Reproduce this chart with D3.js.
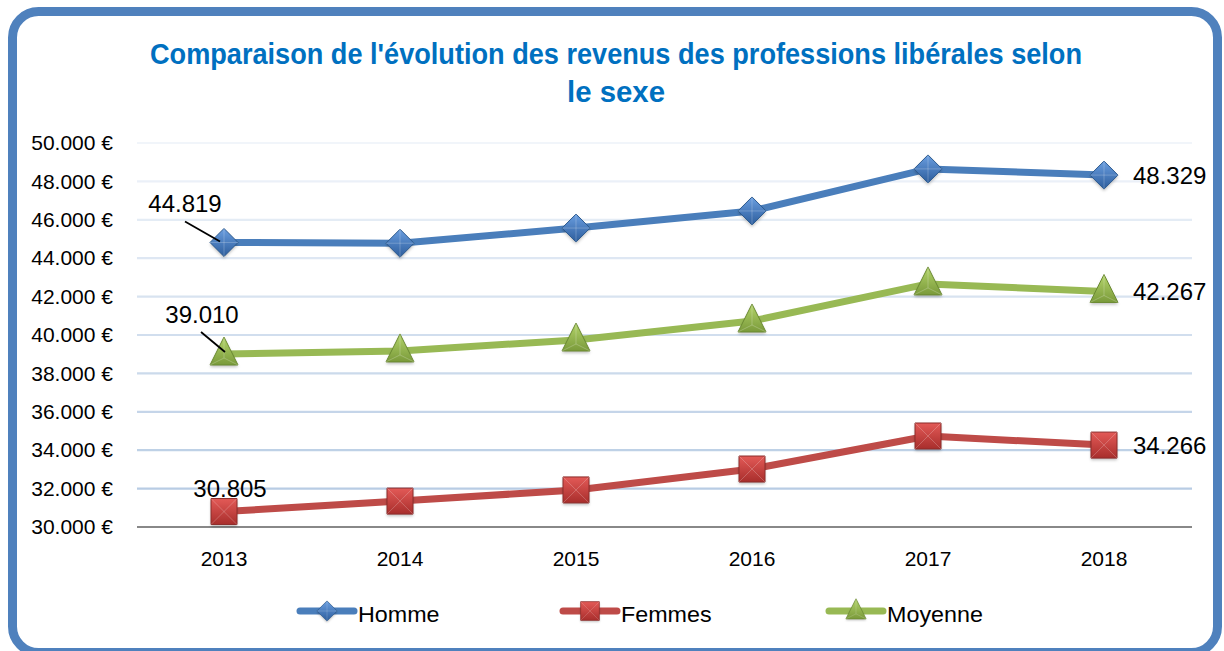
<!DOCTYPE html>
<html><head><meta charset="utf-8">
<script src="https://cdn.jsdelivr.net/npm/d3@7"></script>
<style>
html,body{margin:0;padding:0;background:#fff;}
svg{display:block;}
text{font-family:"Liberation Sans",Arial,sans-serif;}
</style></head>
<body><svg id="c" width="1224" height="651"></svg>
<script>
const years = ["2013","2014","2015","2016","2017","2018"];
const homme = [44819, 44780, 45570, 46460, 48650, 48329];
const femmes = [30805, 31350, 31930, 33020, 34740, 34266];
const moyenne = [39010, 39170, 39740, 40730, 42660, 42267];
const seriesNames = ["Homme","Femmes","Moyenne"];
const yTicks = [30000,32000,34000,36000,38000,40000,42000,44000,46000,48000,50000];
const titleLines = ["Comparaison de l'évolution des revenus des professions libérales selon","le sexe"];

const svg = d3.select("#c");
const defs = svg.append("defs");

// frame
svg.append("rect").attr("x",12.5).attr("y",11.5).attr("width",1205).attr("height",641)
  .attr("rx",26).attr("fill","#fff").attr("stroke","#4f81bd").attr("stroke-width",9);

// title
const tLen = [932, 98];
titleLines.forEach((t,i)=>{
  svg.append("text").attr("x",616).attr("y",64 + i*38).attr("text-anchor","middle")
    .attr("fill","#0070c0").attr("font-weight","bold").attr("font-size",29)
    .attr("textLength",tLen[i]).attr("lengthAdjust","spacingAndGlyphs")
    .text(t);
});

const x = d3.scaleBand().domain(years).range([136,1192]);
const y = d3.scaleLinear().domain([30000,50000]).range([527,143]);
const cx = d => x(d) + x.bandwidth()/2;

// gridlines
const gc = d3.interpolateRgb("#f1f5fa","#b8cce4");
svg.append("g").selectAll("line").data(yTicks.slice(1)).join("line")
  .attr("x1",137).attr("x2",1192).attr("y1",d=>y(d)).attr("y2",d=>y(d))
  .attr("stroke",(d,i)=>gc(1 - i/(yTicks.length-2))).attr("stroke-width",2.2);

// y axis
const yAxis = d3.axisLeft(y).tickValues(yTicks).tickSize(0).tickPadding(0)
  .tickFormat(d => d3.format(",")(d).replace(/,/g,".") + " €");
const ya = svg.append("g").attr("transform","translate(113,0)").call(yAxis);
ya.select(".domain").remove();
ya.selectAll("text").attr("font-size",21).attr("fill","#000").style("font-family","'Liberation Sans',Arial,sans-serif");

// x axis
const xAxis = d3.axisBottom(x).tickSize(0).tickPadding(0);
const xa = svg.append("g").attr("transform","translate(0,527)").call(xAxis);
xa.select(".domain").attr("stroke","#888").attr("stroke-width",2).attr("d","M137,0H1192");
xa.selectAll("text").attr("font-size",21).attr("fill","#000").attr("dy",0).attr("y",39)
  .style("font-family","'Liberation Sans',Arial,sans-serif");

// gradients
function grad(id, c1, c2){
  const g = defs.append("linearGradient").attr("id",id)
    .attr("x1",0).attr("y1",0).attr("x2",0).attr("y2",1);
  g.append("stop").attr("offset","0%").attr("stop-color",c1);
  g.append("stop").attr("offset","100%").attr("stop-color",c2);
}
grad("gB","#6a9ee0","#2d5d9c");
grad("gR","#e35a57","#a82e2c");
grad("gG","#b3d46a","#7a9a3a");
const f = defs.append("filter").attr("id","sh").attr("x","-50%").attr("y","-50%").attr("width","200%").attr("height","200%");
f.append("feGaussianBlur").attr("stdDeviation",1.5);

const series = [
  {name:seriesNames[0], vals:homme, color:"#4a7ebb", g:"url(#gB)", stroke:"#2c5a8f", shape:"diamond"},
  {name:seriesNames[1], vals:femmes, color:"#be4b48", g:"url(#gR)", stroke:"#8c2d2b", shape:"square"},
  {name:seriesNames[2], vals:moyenne, color:"#98b954", g:"url(#gG)", stroke:"#6b8a32", shape:"triangle"}
];

function markerPath(shape){
  if(shape==="diamond") return "M0,-14L14,0L0,14L-14,0Z";
  if(shape==="square") return "M-13,-13H13V13H-13Z";
  return "M0,-17L14,11H-14Z";
}
function drawMarker(g, shape, s){
  g.append("path").attr("d",markerPath(shape)).attr("fill","rgba(0,0,0,0.25)")
    .attr("transform","translate(0,2)").attr("filter","url(#sh)");
  g.append("path").attr("d",markerPath(shape)).attr("fill",s.g).attr("stroke",s.stroke)
    .attr("stroke-width",1);
  let hl;
  if(shape==="diamond") hl = "M-14,0L14,0M0,-14L0,14";
  else if(shape==="square") hl = "M-13,-13L13,13M13,-13L-13,13";
  else hl = "M0,-17L0,4M-14,11L0,4L14,11";
  g.append("path").attr("d",hl).attr("fill","none").attr("stroke","rgba(255,255,255,0.22)").attr("stroke-width",1);
}

const line = d3.line().x((d,i)=>cx(years[i])).y(d=>y(d));
series.forEach(s=>{
  svg.append("path").datum(s.vals).attr("d",line).attr("fill","none")
    .attr("stroke",s.color).attr("stroke-width",7).attr("stroke-linejoin","round");
});
series.forEach(s=>{
  s.vals.forEach((v,i)=>{
    const g = svg.append("g").attr("transform",`translate(${cx(years[i])},${y(v)})`);
    drawMarker(g, s.shape, s);
  });
});

// data labels
const fmt = v => d3.format(",")(v).replace(/,/g,".");
const lab = svg.append("g").attr("font-size",24).attr("fill","#000");
lab.append("text").attr("x",cx(years[0])-39).attr("y",y(homme[0])-30).attr("text-anchor","middle").text(fmt(homme[0]));
lab.append("line").attr("x1",cx(years[0])-39).attr("y1",y(homme[0])-21).attr("x2",cx(years[0])-4).attr("y2",y(homme[0])-1).attr("stroke","#000").attr("stroke-width",1.8);
lab.append("text").attr("x",cx(years[0])-22).attr("y",y(moyenne[0])-31).attr("text-anchor","middle").text(fmt(moyenne[0]));
lab.append("line").attr("x1",cx(years[0])-23).attr("y1",y(moyenne[0])-22).attr("x2",cx(years[0])+1).attr("y2",y(moyenne[0])-2).attr("stroke","#000").attr("stroke-width",1.8);
lab.append("text").attr("x",cx(years[0])+6).attr("y",y(femmes[0])-15).attr("text-anchor","middle").text(fmt(femmes[0]));
[homme, moyenne, femmes].forEach(arr=>{
  const v = arr[arr.length-1];
  lab.append("text").attr("x",cx(years[5])+29).attr("y",y(v)+9).text(fmt(v));
});

// legend
const legX = [327, 590, 856];
series.forEach((s,i)=>{
  const g = svg.append("g").attr("transform",`translate(${legX[i]},611)`);
  g.append("line").attr("x1",-27).attr("x2",27).attr("stroke",s.color).attr("stroke-width",7).attr("stroke-linecap","round");
  const m = g.append("g").attr("transform","scale(0.72)");
  drawMarker(m, s.shape, s);
  g.append("text").attr("transform","translate(31,11) scale(1.06,1)").attr("font-size",22).attr("fill","#000").text(s.name);
});
</script></body></html>
